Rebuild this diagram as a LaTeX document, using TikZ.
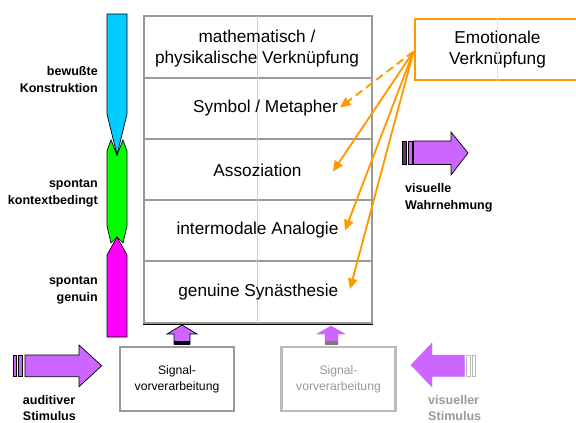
\documentclass[tikz,border=0pt]{standalone}
\usepackage{fontspec}
\setmainfont{Liberation Sans}
\usetikzlibrary{arrows.meta,calc}

\definecolor{lila}{HTML}{CC66FF}
\definecolor{dlila}{HTML}{663366}
\definecolor{orng}{HTML}{FF9900}
\definecolor{lorng}{HTML}{FFDDAA}
\definecolor{grau}{HTML}{999999}
\definecolor{hgrau}{HTML}{BBBBBB}
\definecolor{lgrau}{HTML}{CCCCCC}
\definecolor{cyanbar}{HTML}{00CCFF}
\definecolor{greenbar}{HTML}{00FF00}
\definecolor{magbar}{HTML}{FF00FF}

\begin{document}
\begin{tikzpicture}[x=0.03cm,y=-0.03cm,
 rowbox/.style={draw=grau,line width=2.5pt,fill=white},
 stxt/.style={font=\fontsize{14.7}{17.5}\selectfont,align=center,inner sep=0pt},
 lbl/.style={font=\fontsize{10.7}{14.2}\selectfont\bfseries,inner sep=0pt},
 sigbox/.style={line width=2.5pt,minimum width=3.42cm,minimum height=1.92cm,align=center,
   font=\fontsize{10.4}{13.7}\selectfont},
 link/.style={-{Triangle[length=9pt,width=8pt]},orng,line width=1.6pt},
 bigarr/.style={draw=black,line width=0.6pt,fill=lila},
 bar/.style={draw=black,line width=0.6pt}]
\useasboundingbox (0,0) rectangle (576,423);
% Ebenen
\foreach \ya/\yb in {16/78,78/139,139/200,200/261,261/323}
 \draw[rowbox] (144,\ya) rectangle (372,\yb);
\draw[black,line width=1pt] (143,324.6)--(373,324.6);
\draw[lgrau,line width=0.6pt] (257,16)--(257,323);
\node[stxt] (math) at (257,48.5) {mathematisch /\\physikalische Verknüpfung};
\node[stxt] (sym) at (265.5,108.5) {Symbol / Metapher};
\node[stxt] (asso) at (257.5,170) {Assoziation};
\node[stxt] (ana) at (257.5,230.5) {intermodale Analogie};
\node[stxt] (syn) at (258.3,292) {genuine Synästhesie};
% Balken links
\draw[bar,fill=greenbar] (107,151)--(111,140)--(117,155)--(123,140)--(127,151)
 --(127,226)--(123,243)--(117,237)--(111,243)--(107,226)--cycle;
\draw[bar,fill=cyanbar] (107,14)--(127,14)--(127,114)--(117,155)--(107,114)--cycle;
\draw[bar,fill=magbar] (117,237)--(127,255)--(127,337)--(107,337)--(107,255)--cycle;
\node[lbl,align=right,anchor=east] (bew) at (98,79.5) {bewußte\\Konstruktion};
\node[lbl,align=right,anchor=east] (kon) at (98,193.5) {spontan\\kontextbedingt};
\node[lbl,align=right,anchor=east] (gen) at (98,290) {spontan\\genuin};
% Emotionale Verknuepfung
\node[draw=orng,line width=2.5pt,minimum width=4.95cm,minimum height=1.83cm,align=center,
 font=\fontsize{14.7}{17.5}\selectfont] (emo) at (497.5,49.5) {Emotionale\\Verknüpfung};
\draw[lorng,line width=0.6pt] (emo.north)--(emo.south);
\coordinate (e0) at ($(emo.west)+(0,2)$);
\coordinate (tsym) at (340,107.5);
\coordinate (tasso) at (333,171.5);
\coordinate (tana) at (345,230.5);
\coordinate (tsyn) at (350,289);
\draw[link,dash pattern=on 7pt off 4pt] (e0)--(tsym);
\draw[link] (e0)--(tasso);
\draw[link] (e0)--(tana);
\draw[link] (e0)--(tsyn);
% visuelle Wahrnehmung
\draw[bar,fill=dlila] (402.7,141) rectangle (406,164.5);
\draw[bar,fill=lila] (408,141) rectangle (412,164.5);
\draw[bigarr] (413.5,141)--(451,141)--(451,132)--(468,153)--(451,175)--(451,164.5)--(413.5,164.5)--cycle;
\node[lbl,align=left,anchor=west] (vw) at (405,197.5) {visuelle\\Wahrnehmung};
% Signalvorverarbeitung
\node[sigbox,draw=grau] (sig1) at (177,379) {Signal-\\vorverarbeitung};
\node[sigbox,draw=hgrau,text=grau] (sig2) at (338.5,379) {Signal-\\vorverarbeitung};
\draw[bigarr] (174,344)--(174,334)--(167,334)--(182,325)--(197,334)--(190,334)--(190,344)--cycle;
\fill[black] (174,340.5) rectangle (190,344.5);
\draw[lila,fill=lila,line width=0.4pt] (325,344)--(325,334)--(317,334)--(331,326)--(345,334)--(338,334)--(338,344)--cycle;
\fill[grau!80!black] (325,340.5) rectangle (338,344.5);
% auditiver Stimulus
\draw[bar,fill=lila] (13.3,355) rectangle (16.7,376.7);
\draw[bar,fill=lila] (18.3,355) rectangle (22.3,376.7);
\draw[bigarr] (25,355)--(79,355)--(79,345)--(101.7,365.8)--(79,386.7)--(79,376.7)--(25,376.7)--cycle;
\node[lbl,align=left,anchor=west] (aud) at (22.7,408) {auditiver\\Stimulus};
% visueller Stimulus
\draw[lila,fill=lila,line width=0.4pt] (464.5,355)--(432,355)--(432,343)--(411,365)--(432,387)--(432,376.5)--(464.5,376.5)--cycle;
\draw[hgrau,fill=white,line width=0.6pt] (466,355) rectangle (470.7,376.5);
\draw[hgrau,fill=white,line width=0.6pt] (472.5,355) rectangle (475.5,376.5);
\node[lbl,align=left,anchor=west,text=grau] (vis) at (428,408) {visueller\\Stimulus};
\end{tikzpicture}
\end{document}
